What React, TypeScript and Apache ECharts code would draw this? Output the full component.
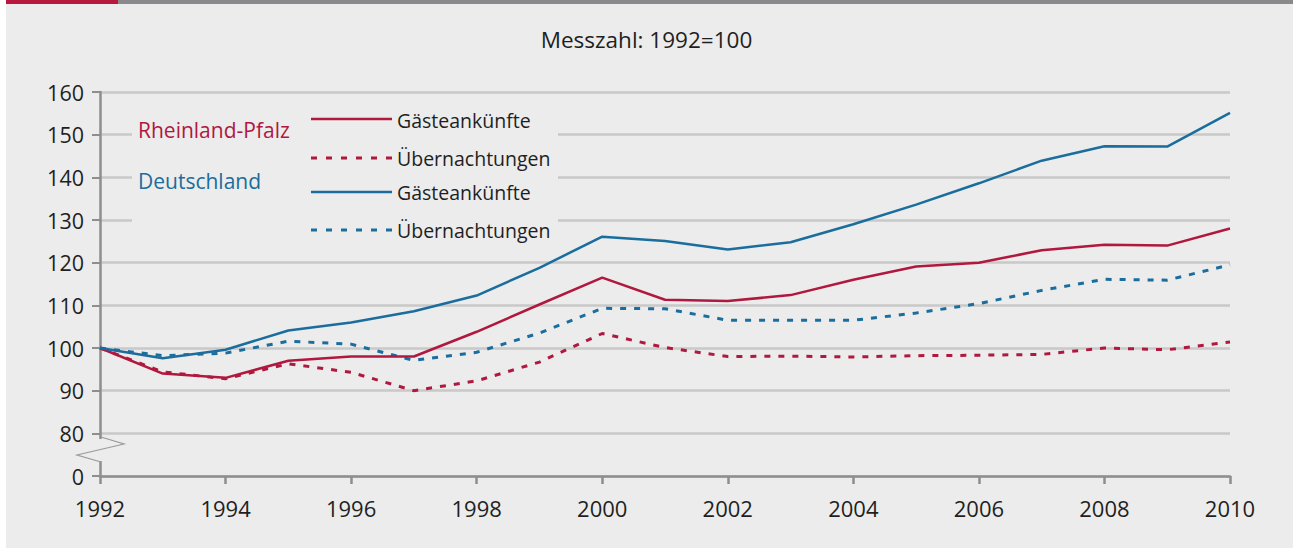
import React, { useEffect, useRef } from "react";
import * as echarts from "echarts";

const years = ["1992","1993","1994","1995","1996","1997","1998","1999","2000","2001","2002","2003","2004","2005","2006","2007","2008","2009","2010"];
const rpAnkuenfte = [100, 94, 93, 97, 98, 98, 103.8, 110.2, 116.5, 111.3, 111, 112.4, 116, 119.1, 120, 122.9, 124.2, 124, 128];
const rpUebernacht = [100, 94.4, 92.8, 96.3, 94.3, 90, 92.3, 96.7, 103.4, 100.1, 98, 98.1, 97.9, 98.2, 98.3, 98.5, 100, 99.6, 101.4];
const deAnkuenfte = [100, 97.6, 99.6, 104.1, 106, 108.6, 112.3, 118.8, 126.1, 125.1, 123.1, 124.8, 129, 133.6, 138.6, 143.9, 147.3, 147.2, 155.1];
const deUebernacht = [100, 98.2, 98.8, 101.6, 100.9, 97.1, 99, 103.5, 109.3, 109.2, 106.5, 106.5, 106.5, 108.2, 110.4, 113.5, 116.1, 115.9, 119.5];
const yTicks = [0, 80, 90, 100, 110, 120, 130, 140, 150, 160];

const RED = "#b0183f";
const BLUE = "#1a6d9d";
const BG = "#ebeceb";
const TXT = "#1f1f1f";
const FONT = "'Open Sans', 'Noto Sans', sans-serif";

export default function App() {
  const ref = useRef<HTMLDivElement>(null);
  useEffect(() => {
    if (!ref.current) return;
    const chart = echarts.init(ref.current, null, { renderer: "svg" });
    const line = (name: string, data: number[], color: string, dashed: boolean) => ({
      name,
      type: "line",
      data,
      symbol: "none",
      z: 3,
      lineStyle: dashed ? { color, width: 3, type: [6, 8] } : { color, width: 2.5, type: "solid" },
    });
    chart.setOption({
      animation: false,
      backgroundColor: "transparent",
      textStyle: { fontFamily: FONT },
      title: {
        text: "Messzahl: 1992=100",
        left: "center",
        top: 23,
        textStyle: { fontFamily: FONT, fontSize: 22.5, fontWeight: "normal", color: TXT },
      },
      grid: { left: 100, right: 63, top: 92, bottom: 72 },
      xAxis: {
        type: "category",
        data: years,
        boundaryGap: false,
        axisLine: { show: true, lineStyle: { color: "#8e8e8e", width: 2.5 } },
        axisTick: { show: true, interval: 1, length: 8, lineStyle: { color: "#8e8e8e", width: 2.5 } },
        axisLabel: { interval: 1, margin: 21, fontSize: 22, color: TXT, fontFamily: FONT },
        splitLine: { show: false },
      },
      yAxis: {
        type: "value",
        min: 70,
        max: 160,
        interval: 10,
        axisLine: { show: true, lineStyle: { color: "#8e8e8e", width: 2.5 } },
        axisTick: { show: true, length: 8, lineStyle: { color: "#8e8e8e", width: 2 } },
        axisLabel: {
          margin: 16,
          fontSize: 21.5,
          color: TXT,
          fontFamily: FONT,
          formatter: (v: number) => (v === 70 ? String(yTicks[0]) : String(v)),
        },
        splitLine: { show: true, lineStyle: { color: "#c9c9c9", width: 2.5 } },
      },
      graphic: [
        { type: "rect", z: -100, shape: { x: 6, y: 0, width: 1287, height: 548 }, style: { fill: BG } },
        { type: "rect", z: 100, shape: { x: 6, y: 0, width: 112, height: 4 }, style: { fill: "#b8173e" } },
        { type: "rect", z: 100, shape: { x: 118, y: 0, width: 1175, height: 4 }, style: { fill: "#8a8a8c" } },
        // legend area mask
        { type: "rect", z: 50, shape: { x: 132, y: 102, width: 426, height: 145 }, style: { fill: BG } },
        // axis break
        { type: "rect", z: 50, shape: { x: 95, y: 439, width: 12, height: 22 }, style: { fill: BG } },
        {
          type: "polyline", z: 60,
          shape: { points: [[101, 437], [124, 444], [77, 455], [101, 462]] },
          style: { stroke: "#9a9a9a", lineWidth: 1.2, fill: "none" },
        },
        { type: "text", z: 60, x: 138, y: 130, style: { text: "Rheinland-Pfalz", fill: RED, font: `21px ${FONT}`, verticalAlign: "middle" } },
        { type: "text", z: 60, x: 138, y: 181, style: { text: "Deutschland", fill: BLUE, font: `21px ${FONT}`, verticalAlign: "middle" } },
        { type: "line", z: 60, shape: { x1: 311, y1: 119, x2: 392, y2: 119 }, style: { stroke: RED, lineWidth: 2.5 } },
        { type: "line", z: 60, shape: { x1: 311, y1: 158, x2: 392, y2: 158 }, style: { stroke: RED, lineWidth: 3, lineDash: [6, 9] } },
        { type: "line", z: 60, shape: { x1: 311, y1: 192, x2: 392, y2: 192 }, style: { stroke: BLUE, lineWidth: 2.5 } },
        { type: "line", z: 60, shape: { x1: 311, y1: 230, x2: 392, y2: 230 }, style: { stroke: BLUE, lineWidth: 3, lineDash: [6, 9] } },
        { type: "text", z: 60, x: 397, y: 120, style: { text: "Gästeankünfte", fill: TXT, font: `19.5px ${FONT}`, verticalAlign: "middle" } },
        { type: "text", z: 60, x: 397, y: 158, style: { text: "Übernachtungen", fill: TXT, font: `19.5px ${FONT}`, verticalAlign: "middle" } },
        { type: "text", z: 60, x: 397, y: 192, style: { text: "Gästeankünfte", fill: TXT, font: `19.5px ${FONT}`, verticalAlign: "middle" } },
        { type: "text", z: 60, x: 397, y: 230, style: { text: "Übernachtungen", fill: TXT, font: `19.5px ${FONT}`, verticalAlign: "middle" } },
      ],
      series: [
        line("Rheinland-Pfalz Übernachtungen", rpUebernacht, RED, true),
        line("Deutschland Übernachtungen", deUebernacht, BLUE, true),
        line("Rheinland-Pfalz Gästeankünfte", rpAnkuenfte, RED, false),
        line("Deutschland Gästeankünfte", deAnkuenfte, BLUE, false),
      ],
    });
    return () => chart.dispose();
  }, []);
  return (
    <div style={{ position: "absolute", left: 0, top: 0, width: 1293, height: 548, background: "#ffffff" }}>
      <div ref={ref} style={{ width: 1293, height: 548 }} />
    </div>
  );
}
